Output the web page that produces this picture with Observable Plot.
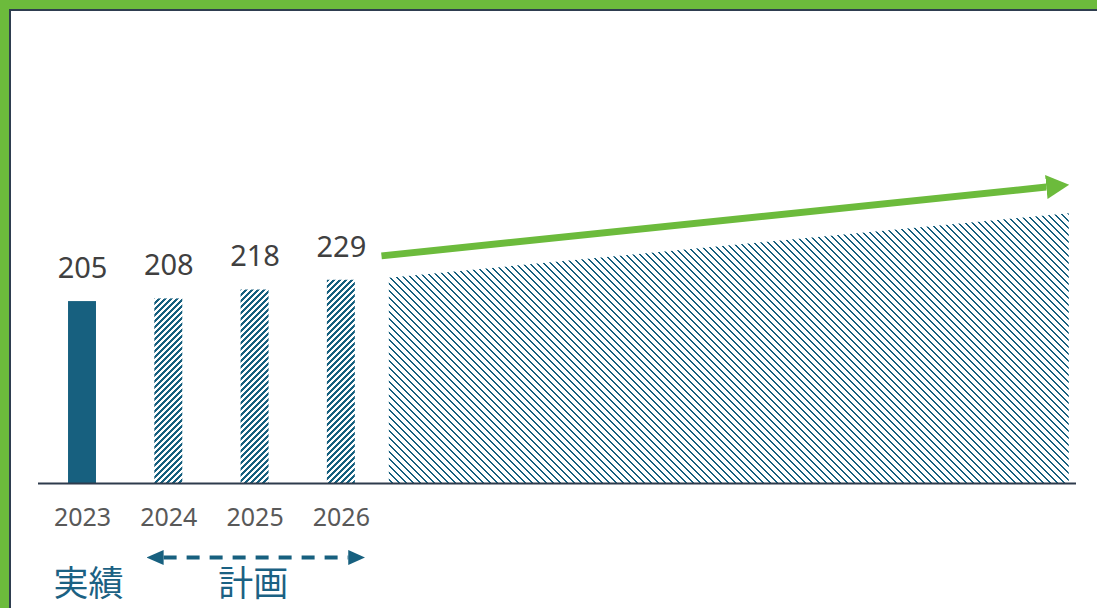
<!DOCTYPE html>
<html>
<head>
<meta charset="utf-8">
<script src="https://cdn.jsdelivr.net/npm/d3@7"></script>
<script src="https://cdn.jsdelivr.net/npm/@observablehq/plot@0.6"></script>
<style>
  html, body { margin: 0; padding: 0; background: #ffffff; width: 1097px; height: 608px; overflow: hidden; }
  #frame { position: absolute; left: 0; top: 0; width: 1097px; height: 608px; box-sizing: border-box;
           border-top: 9px solid #6CBB3C; border-left: 9px solid #6CBB3C; }
  #frame-inner { position: absolute; left: 0; top: 0; right: 0; bottom: 0;
           border-top: 2px solid #2E3D4F; border-left: 2px solid #2E3D4F; }
  #chart { position: absolute; left: 0; top: 0; }
</style>
</head>
<body>
<div id="frame"><div id="frame-inner"></div></div>
<div id="chart"></div>
<script>
// ---- data ----
const years = [2023, 2024, 2025, 2026];
const values = [205, 208, 218, 229];
const kinds = ["実績", "計画", "計画", "計画"];
// hatched outlook area beyond 2026 (year, value)
const outlookYears = [2026.556, 2034.436];
const outlookValues = [231.4, 304];
// green growth arrow (start, base of head)
const trendYears = [2026.465, 2034.17];
const trendValues = [256.5, 334.1];
// section labels under the axis
const sectionLabels = ["実績", "計画"];
const sectionYears = [2023.07, 2024.98];
const planSpanYears = [2023.94, 2026.08];

// ---- tables ----
const bars = years.map((y, i) => ({year: y, value: values[i], kind: kinds[i]}));
const actualBars = bars.filter(d => d.kind === "実績");
const planBars = bars.filter(d => d.kind === "計画");
const outlook = outlookYears.map((y, i) => ({year: y, value: outlookValues[i]}));
const trend = [{x1: trendYears[0], y1: trendValues[0], x2: trendYears[1], y2: trendValues[1]}];
const planSpan = [{x1: planSpanYears[0], x2: planSpanYears[1], y: 0}];
const sections = sectionLabels.map((t, i) => ({text: t, year: sectionYears[i]}));

const navy = "#17607F";
const half = 0.162;

const chart = Plot.plot({
  width: 1097,
  height: 608,
  marginLeft: 38,
  marginRight: 21,
  marginTop: 10,
  marginBottom: 125,
  x: {domain: [2022.49, 2034.52], axis: null},
  y: {domain: [0, 533], axis: null},
  style: {background: "transparent", overflow: "visible"},
  marks: [
    Plot.areaY(outlook, {x: "year", y: "value", fill: "url(#areaHatch)"}),
    Plot.rectY(actualBars, {x1: d => d.year - half, x2: d => d.year + half, y: "value", fill: navy}),
    Plot.rectY(planBars, {x1: d => d.year - half, x2: d => d.year + half, y: "value", fill: "url(#barHatch)"}),
    Plot.ruleY([0], {stroke: "#2E3B4C", strokeWidth: 2}),
    Plot.text(bars, {x: "year", y: "value", text: d => String(d.value), dy: -33,
      fontSize: 29, fontFamily: "Noto Sans", fill: "#404040"}),
    Plot.text(years, {x: d => d, frameAnchor: "bottom", lineAnchor: "middle", dy: 34, text: d => String(d),
      fontSize: 25, fontFamily: "Noto Sans", fill: "#595959"}),
    Plot.link(trend, {x1: "x1", y1: "y1", x2: "x2", y2: "y2", stroke: "#6CBB3C", strokeWidth: 7}),
    Plot.link(planSpan, {x1: "x1", x2: "x2", y1: "y", y2: "y", dy: 74, stroke: navy,
      strokeWidth: 4, strokeDasharray: "13 10"}),
    Plot.text(sections, {x: "year", frameAnchor: "bottom", lineAnchor: "middle", dy: 101, text: "text",
      fontSize: 35, fontFamily: "Noto Sans CJK JP", fill: "#1B6183"})
  ]
});

const defs = document.createElementNS("http://www.w3.org/2000/svg", "defs");
let barCells = "";
for (let r = 0; r < 6; r++) for (let c = 0; c < 6; c++) {
  if ((c + r) % 6 < 3) barCells += `<rect x="${c}" y="${r}" width="1" height="1" fill="${navy}"/>`;
}
let areaCells = "";
for (let r = 0; r < 7; r++) for (let c = 0; c < 7; c++) {
  if (((c - r) % 7 + 7) % 7 < 2) areaCells += `<rect x="${c}" y="${r}" width="1" height="1" fill="${navy}"/>`;
}
defs.innerHTML = `
  <pattern id="barHatch" patternUnits="userSpaceOnUse" width="6" height="6" shape-rendering="crispEdges">
    <rect width="6" height="6" fill="#ffffff"/>
    ${barCells}
  </pattern>
  <pattern id="areaHatch" patternUnits="userSpaceOnUse" width="7" height="7" shape-rendering="crispEdges">
    <rect width="7" height="7" fill="#ffffff"/>
    ${areaCells}
  </pattern>
  <marker id="greenHead" markerUnits="userSpaceOnUse" viewBox="0 0 23 24" markerWidth="23" markerHeight="24"
          refX="0" refY="12" orient="auto">
    <path d="M0,0 L23,12 L0,24 Z" fill="#6CBB3C"/>
  </marker>
  <marker id="navyHead" markerUnits="userSpaceOnUse" viewBox="0 0 17 15" markerWidth="17" markerHeight="15"
          refX="0" refY="7.5" orient="auto-start-reverse">
    <path d="M0,0 L17,7.5 L0,15 Z" fill="${navy}"/>
  </marker>`;
chart.insertBefore(defs, chart.firstChild);

const linkGroups = chart.querySelectorAll('g[aria-label="link"]');
if (linkGroups[0]) linkGroups[0].querySelectorAll("path").forEach(p => p.setAttribute("marker-end", "url(#greenHead)"));
if (linkGroups[1]) linkGroups[1].querySelectorAll("path").forEach(p => {
  p.setAttribute("marker-start", "url(#navyHead)");
  p.setAttribute("marker-end", "url(#navyHead)");
});

document.getElementById("chart").appendChild(chart);
</script>
</body>
</html>
